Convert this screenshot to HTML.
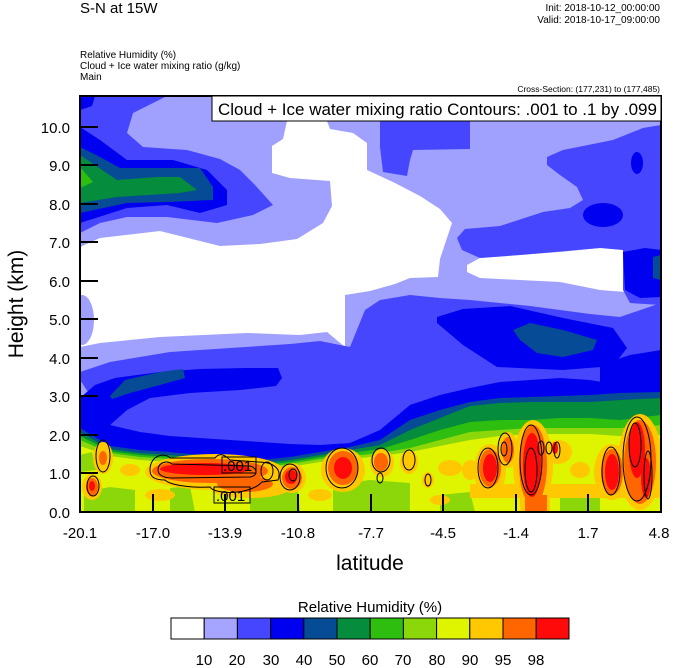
<!DOCTYPE html>
<html><head><meta charset="utf-8"><style>
html,body{margin:0;padding:0;background:#fff;}
svg{display:block;font-family:"Liberation Sans",sans-serif;}
</style></head><body>
<svg width="674" height="668" viewBox="0 0 674 668" xmlns="http://www.w3.org/2000/svg">
<rect width="674" height="668" fill="#fff"/>
<text x="80" y="13" font-size="15">S-N at 15W</text>
<text x="660" y="11" font-size="10" text-anchor="end">Init: 2018-10-12_00:00:00</text>
<text x="660" y="23" font-size="10" text-anchor="end">Valid: 2018-10-17_09:00:00</text>
<text x="80" y="58" font-size="10">Relative Humidity   (%)</text>
<text x="80" y="69" font-size="10">Cloud + Ice water mixing ratio   (g/kg)</text>
<text x="80" y="80" font-size="10">Main</text>
<text x="660" y="92" font-size="8.5" text-anchor="end">Cross-Section: (177,231) to (177,485)</text>
<defs><clipPath id="pc"><rect x="80" y="96" width="581" height="416"/></clipPath></defs>
<g clip-path="url(#pc)">
<rect x="80" y="96" width="581" height="416" fill="#a0a0ff"/>
<polygon fill="#fff" points="287,121 327,121 330,129 353,133 367,143 367,170 380,176 395,183 420,196 440,209 452,223 440,259 438,277 410,278 395,284 370,291 345,295 345,347 327,332 300,335 247,333 160,337 100,343 80,347 80,247 100,238 160,231 220,246 260,244 297,239 323,223 332,206 330,181 290,178 272,173 272,146 283,139"/>
<polygon fill="#fff" points="467,265 480,258 520,255 560,252 600,248 623,247 625,268 625,292 600,290 560,282 520,280 480,278 467,272"/>
<ellipse cx="82" cy="320" rx="12" ry="25" fill="#a0a0ff"/>
<polygon fill="#4646ff" points="80,96 167,96 133,113 127,133 143,147 187,150 220,159 240,170 255,185 273,205 253,215 217,223 167,217 127,217 100,223 80,233"/>
<polygon fill="#0000f0" points="80,96 95,96 92,106 80,110"/>
<polygon fill="#0000f0" points="80,127 100,140 127,160 173,160 207,170 227,190 227,205 200,213 167,205 127,208 80,223"/>
<polygon fill="#054b96" points="80,147 100,157 120,168 200,168 213,187 213,200 167,202 127,203 80,213"/>
<polygon fill="#058c3c" points="80,155 117,180 157,177 180,177 197,190 180,193 117,197 80,203"/>
<polygon fill="#2dbe0f" points="80,167 93,182 80,188"/>
<polygon fill="#4646ff" points="380,96 470,96 470,149 413,150 410,160 407,176 383,172 380,147"/>
<polygon fill="#4646ff" points="547,157 563,150 613,140 643,128 661,125 661,305 630,303 623,290 623,250 600,248 520,255 480,258 462,250 457,238 465,229 500,226 543,212 570,208 583,200 577,187 560,175 547,165"/>
<ellipse cx="603" cy="215" rx="20" ry="12" fill="#0000f0"/>
<ellipse cx="637" cy="163" rx="6" ry="11" fill="#0000f0"/>
<polygon fill="#0000f0" points="623,252 645,248 661,250 661,297 640,298 625,290"/>
<polygon fill="#054b96" points="653,257 661,255 661,280 653,278"/>
<polygon fill="#4646ff" points="80,372 110,362 140,357 170,352 200,350 230,348 260,346 290,344 320,341 350,347 365,310 380,300 410,295 440,298 470,300 500,303 530,306 560,310 590,314 620,317 661,303 661,512 80,512"/>
<polygon fill="#a0a0ff" points="80,380 90,395 97,420 93,428 80,428"/>
<polygon fill="#0000f0" points="80,398 95,385 115,378 160,372 200,369 245,368 278,368 282,378 276,386 240,390 190,393 150,398 127,410 110,425 80,430"/>
<polygon fill="#054b96" points="110,396 125,380 160,372 183,369 185,378 160,385 130,393 112,399"/>
<polygon fill="#0000f0" points="437,317 463,309 510,306 563,318 613,328 627,348 613,366 563,370 497,367 463,345 437,323"/>
<polygon fill="#054b96" points="513,330 530,323 563,330 597,340 593,350 563,357 537,353 520,340"/>
<polygon fill="#0000f0" points="600,365 630,355 661,350 661,390 600,390"/>
<polygon fill="#0000f0" points="80,415 110,425 140,432 170,436 200,438 230,440 260,442 290,444 320,445 350,443 380,430 410,405 440,395 470,388 500,382 530,380 560,378 590,380 620,385 661,387 661,512 80,512"/>
<polygon fill="#054b96" points="80,428 110,446 140,450 170,452 200,455 230,458 260,460 290,457 320,452 350,447 380,440 410,420 440,410 470,402 500,398 530,397 560,396 590,395 620,393 661,392 661,512 80,512"/>
<polygon fill="#058c3c" points="80,432 110,449 140,453 170,455 200,458 230,461 260,463 290,460 320,455 350,450 380,445 410,430 440,418 470,406 500,403 530,402 560,402 590,402 620,400 661,398 661,512 80,512"/>
<polygon fill="#2dbe0f" points="80,436 110,451 140,455 170,457 200,460 230,463 260,465 290,462 320,457 350,453 380,449 410,440 440,430 470,422 500,420 530,420 560,418 590,418 620,420 661,415 661,512 80,512"/>
<polygon fill="#8cd70a" points="80,440 110,453 140,457 170,459 200,462 230,465 260,467 290,464 320,459 350,456 380,453 410,448 440,440 470,432 500,430 530,428 560,428 590,428 620,428 661,425 661,512 80,512"/>
<polygon fill="#dff500" points="80,446 110,456 140,460 170,462 200,465 230,468 260,470 290,467 320,462 350,459 380,456 410,452 440,446 470,440 500,436 530,434 560,434 590,434 620,436 661,435 661,512 80,512"/>
<polygon fill="#8cd70a" points="80,455 92,452 96,470 80,472"/>
<polygon fill="#8cd70a" points="84,492 110,487 135,490 135,512 84,512"/>
<polygon fill="#8cd70a" points="170,488 190,486 195,512 170,512"/>
<polygon fill="#8cd70a" points="250,485 297,480 300,512 250,512"/>
<polygon fill="#8cd70a" points="333,485 370,480 410,483 410,512 333,512"/>
<polygon fill="#8cd70a" points="440,495 470,492 475,512 440,512"/>
<polygon fill="#8cd70a" points="560,495 600,497 600,512 560,512"/>
<g fill="#ffc800">
<ellipse cx="92" cy="487" rx="10" ry="13"/>
<ellipse cx="103" cy="458" rx="10" ry="16"/>
<ellipse cx="215" cy="472" rx="70" ry="18"/>
<ellipse cx="250" cy="488" rx="40" ry="10"/>
<ellipse cx="292" cy="478" rx="14" ry="15"/>
<ellipse cx="343" cy="470" rx="22" ry="22"/>
<ellipse cx="382" cy="463" rx="12" ry="14"/>
<ellipse cx="409" cy="462" rx="9" ry="12"/>
<ellipse cx="428" cy="480" rx="6" ry="8"/>
<ellipse cx="490" cy="470" rx="16" ry="26"/>
<ellipse cx="508" cy="450" rx="10" ry="18"/>
<ellipse cx="533" cy="465" rx="20" ry="45"/>
<ellipse cx="558" cy="452" rx="14" ry="12"/>
<ellipse cx="612" cy="472" rx="18" ry="28"/>
<ellipse cx="640" cy="462" rx="22" ry="48"/>
<rect x="470" y="484" width="191" height="14"/>
<rect x="520" y="480" width="30" height="32"/>
<ellipse cx="160" cy="495" rx="15" ry="6"/>
<ellipse cx="450" cy="468" rx="12" ry="8"/>
<ellipse cx="130" cy="470" rx="10" ry="6"/>
<ellipse cx="320" cy="495" rx="12" ry="6"/>
<ellipse cx="470" cy="470" rx="8" ry="10"/>
<ellipse cx="580" cy="470" rx="10" ry="8"/>
<ellipse cx="440" cy="500" rx="10" ry="5"/>
</g>
<g fill="#ff6600">
<ellipse cx="92" cy="487" rx="6" ry="9"/>
<ellipse cx="103" cy="458" rx="4" ry="7"/>
<ellipse cx="210" cy="471" rx="58" ry="12"/>
<ellipse cx="245" cy="484" rx="28" ry="8"/>
<ellipse cx="292" cy="478" rx="10" ry="11"/>
<ellipse cx="343" cy="468" rx="15" ry="17"/>
<ellipse cx="381" cy="462" rx="7" ry="9"/>
<ellipse cx="490" cy="468" rx="11" ry="19"/>
<ellipse cx="508" cy="450" rx="6" ry="13"/>
<ellipse cx="533" cy="465" rx="14" ry="40"/>
<ellipse cx="612" cy="472" rx="11" ry="23"/>
<ellipse cx="640" cy="462" rx="16" ry="42"/>
<rect x="525" y="495" width="22" height="17"/>
</g>
<g fill="#ff0a0a">
<ellipse cx="92" cy="486" rx="3" ry="5"/>
<ellipse cx="205" cy="469" rx="45" ry="6"/>
<ellipse cx="291" cy="477" rx="6" ry="7"/>
<ellipse cx="343" cy="468" rx="9" ry="11"/>
<ellipse cx="490" cy="468" rx="7" ry="14"/>
<ellipse cx="532" cy="465" rx="9" ry="32"/>
<ellipse cx="555" cy="448" rx="3" ry="6"/>
<ellipse cx="612" cy="472" rx="7" ry="18"/>
<ellipse cx="637" cy="450" rx="8" ry="28"/>
<ellipse cx="646" cy="478" rx="5" ry="20"/>
</g>
<g fill="none" stroke="#000" stroke-width="1">
<ellipse cx="103" cy="456" rx="7" ry="16"/>
<ellipse cx="93" cy="486" rx="6" ry="10"/>
<path d="M150,470 C150,455 165,452 170,458 L215,458 C220,452 225,455 230,460 L258,462 C275,462 282,470 278,480 L262,482 C250,495 215,495 210,487 C190,488 170,485 165,480 C152,480 150,475 150,470 Z"/>
<path d="M158,470 C158,462 168,460 172,464 L250,466 C258,468 258,476 250,477 L172,478 C162,478 158,474 158,470 Z"/>
<ellipse cx="267" cy="471" rx="6" ry="9"/>
<ellipse cx="290" cy="477" rx="10" ry="13"/>
<ellipse cx="293" cy="475" rx="4" ry="6"/>
<ellipse cx="342" cy="468" rx="16" ry="20"/>
<ellipse cx="381" cy="460" rx="9" ry="12"/>
<ellipse cx="380" cy="478" rx="3" ry="5"/>
<ellipse cx="409" cy="460" rx="6" ry="10"/>
<ellipse cx="428" cy="480" rx="3" ry="6"/>
<ellipse cx="488" cy="468" rx="10" ry="20"/>
<ellipse cx="505" cy="449" rx="7" ry="16"/>
<ellipse cx="504" cy="449" rx="3" ry="7"/>
<ellipse cx="531" cy="460" rx="11" ry="35"/>
<ellipse cx="531" cy="470" rx="6" ry="22"/>
<ellipse cx="541" cy="448" rx="3" ry="7"/>
<ellipse cx="549" cy="448" rx="3" ry="6"/>
<ellipse cx="557" cy="450" rx="3" ry="8"/>
<ellipse cx="611" cy="471" rx="9" ry="24"/>
<ellipse cx="637" cy="459" rx="14" ry="42"/>
<ellipse cx="635" cy="445" rx="6" ry="22"/>
<ellipse cx="648" cy="475" rx="4" ry="24"/>
</g>
<rect x="222" y="457" width="34" height="16" fill="none" stroke="#000" stroke-width="1"/>
<text x="223" y="471" font-size="15">.001</text>
<rect x="214" y="487" width="36" height="16" fill="none" stroke="#000" stroke-width="1"/>
<text x="216" y="501" font-size="15">.001</text>
</g>
<g stroke="#000" stroke-width="2">
<line x1="80" y1="127" x2="98" y2="127"/><line x1="80" y1="165" x2="98" y2="165"/>
<line x1="80" y1="204" x2="98" y2="204"/><line x1="80" y1="242" x2="98" y2="242"/>
<line x1="80" y1="281" x2="98" y2="281"/><line x1="80" y1="319" x2="98" y2="319"/>
<line x1="80" y1="358" x2="98" y2="358"/><line x1="80" y1="396" x2="98" y2="396"/>
<line x1="80" y1="435" x2="98" y2="435"/><line x1="80" y1="473" x2="98" y2="473"/>
<line x1="153" y1="512" x2="153" y2="494"/><line x1="225" y1="512" x2="225" y2="494"/>
<line x1="298" y1="512" x2="298" y2="494"/><line x1="371" y1="512" x2="371" y2="494"/>
<line x1="443" y1="512" x2="443" y2="494"/><line x1="516" y1="512" x2="516" y2="494"/>
<line x1="588" y1="512" x2="588" y2="494"/>
</g>
<rect x="80" y="96" width="581" height="416" fill="none" stroke="#000" stroke-width="2"/>
<rect x="212" y="96" width="449" height="25" fill="#fff" stroke="#000" stroke-width="1"/>
<text x="218" y="115" font-size="17">Cloud + Ice water mixing ratio Contours: .001 to .1 by .099</text>
<g font-size="15" text-anchor="end">
<text x="70" y="133">10.0</text><text x="70" y="171">9.0</text><text x="70" y="210">8.0</text>
<text x="70" y="248">7.0</text><text x="70" y="287">6.0</text><text x="70" y="325">5.0</text>
<text x="70" y="364">4.0</text><text x="70" y="402">3.0</text><text x="70" y="441">2.0</text>
<text x="70" y="479">1.0</text><text x="70" y="518">0.0</text>
</g>
<g font-size="15" text-anchor="middle">
<text x="80" y="538">-20.1</text><text x="153" y="538">-17.0</text><text x="225" y="538">-13.9</text>
<text x="298" y="538">-10.8</text><text x="371" y="538">-7.7</text><text x="443" y="538">-4.5</text>
<text x="516" y="538">-1.4</text><text x="588" y="538">1.7</text><text x="659" y="538">4.8</text>
</g>
<text x="370" y="570" font-size="21" text-anchor="middle">latitude</text>
<text transform="translate(23,304) rotate(-90)" font-size="21" text-anchor="middle">Height (km)</text>
<text x="370" y="612" font-size="15" text-anchor="middle">Relative Humidity  (%)</text>
<g stroke="#000" stroke-width="1">
<rect x="171" y="618" width="33.2" height="21" fill="#fff"/>
<rect x="204.2" y="618" width="33.2" height="21" fill="#a5a5ff"/>
<rect x="237.4" y="618" width="33.2" height="21" fill="#4646ff"/>
<rect x="270.6" y="618" width="33.2" height="21" fill="#0000f0"/>
<rect x="303.8" y="618" width="33.2" height="21" fill="#054b96"/>
<rect x="337" y="618" width="33.2" height="21" fill="#058c3c"/>
<rect x="370.2" y="618" width="33.2" height="21" fill="#2dbe0f"/>
<rect x="403.4" y="618" width="33.2" height="21" fill="#8cd70a"/>
<rect x="436.6" y="618" width="33.2" height="21" fill="#dff500"/>
<rect x="469.8" y="618" width="33.2" height="21" fill="#ffc800"/>
<rect x="503" y="618" width="33.2" height="21" fill="#ff6600"/>
<rect x="536.2" y="618" width="32.8" height="21" fill="#ff0a0a"/>
</g>
<g font-size="15" text-anchor="middle">
<text x="204" y="665">10</text><text x="237" y="665">20</text><text x="271" y="665">30</text>
<text x="304" y="665">40</text><text x="337" y="665">50</text><text x="370" y="665">60</text>
<text x="403" y="665">70</text><text x="437" y="665">80</text><text x="470" y="665">90</text>
<text x="503" y="665">95</text><text x="536" y="665">98</text>
</g>
</svg>
</body></html>
